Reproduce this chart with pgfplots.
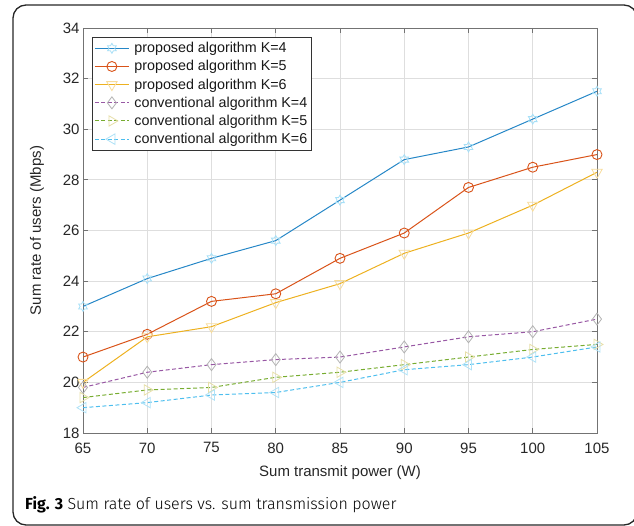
\documentclass[border=0pt]{standalone}
\usepackage{fontspec}
\setmainfont{Liberation Sans}
\newfontfamily\capfont{Fira Sans}
\newfontfamily\capfontlight{Fira Sans Light}
\usepackage{pgfplots}
\pgfplotsset{compat=1.18}
\definecolor{c1}{rgb}{0,0.447,0.741}
\definecolor{c2}{rgb}{0.85,0.325,0.098}
\definecolor{c3}{rgb}{0.929,0.694,0.125}
\definecolor{c4}{rgb}{0.494,0.184,0.556}
\definecolor{c5}{rgb}{0.466,0.674,0.188}
\definecolor{c6}{rgb}{0.301,0.745,0.933}
\pgfdeclareplotmark{hexagram}{%
  \pgfpathmoveto{\pgfpointpolar{90}{\pgfplotmarksize}}%
  \pgfpathlineto{\pgfpointpolar{120}{0.577\pgfplotmarksize}}%
  \pgfpathlineto{\pgfpointpolar{150}{\pgfplotmarksize}}%
  \pgfpathlineto{\pgfpointpolar{180}{0.577\pgfplotmarksize}}%
  \pgfpathlineto{\pgfpointpolar{210}{\pgfplotmarksize}}%
  \pgfpathlineto{\pgfpointpolar{240}{0.577\pgfplotmarksize}}%
  \pgfpathlineto{\pgfpointpolar{270}{\pgfplotmarksize}}%
  \pgfpathlineto{\pgfpointpolar{300}{0.577\pgfplotmarksize}}%
  \pgfpathlineto{\pgfpointpolar{330}{\pgfplotmarksize}}%
  \pgfpathlineto{\pgfpointpolar{0}{0.577\pgfplotmarksize}}%
  \pgfpathlineto{\pgfpointpolar{30}{\pgfplotmarksize}}%
  \pgfpathlineto{\pgfpointpolar{60}{0.577\pgfplotmarksize}}%
  \pgfpathclose\pgfusepathqstroke}
\begin{document}
\begin{tikzpicture}[x=1pt,y=1pt]
\useasboundingbox (0,0) rectangle (634,526);
\draw[line width=1.3pt, black!85, rounded corners=13pt] (13,1) rectangle (637,521);
\begin{axis}[
  at={(83pt,93pt)}, anchor=south west,
  scale only axis, width=514pt, height=405pt,
  xmin=65, xmax=105, ymin=18, ymax=34,
  xtick={65,70,...,105}, ytick={18,20,...,34},
  grid=major,
  major grid style={black!13, line width=0.8pt},
  tick align=inside, major tick length=5pt,
  axis line style={black!55, line width=0.9pt},
  tick style={black!55, line width=0.9pt},
  /pgf/number format/assume math mode=true,
  ticklabel style={font=\fontsize{15}{18}\selectfont, text=black!85},
  xticklabel style={yshift=-6pt},
  every axis x label/.style={at={(axis description cs:0.5,0)}, anchor=center, yshift=-40pt, font=\fontsize{15}{18}\selectfont, text=black!85},
  every axis y label/.style={at={(axis description cs:0,0.5)}, xshift=-46pt, rotate=90, anchor=center, font=\fontsize{15}{18}\selectfont, text=black!85},
  xlabel={Sum transmit power (W)},
  ylabel={Sum rate of users (Mbps)},
  legend style={at={(0,1)}, anchor=north west, xshift=9pt, yshift=-9pt,
    font=\fontsize{14.3}{16}\selectfont, draw=black!80, line width=0.8pt,
    row sep=2.3pt, inner xsep=2pt, inner ysep=3pt, text=black!90},
  legend cell align=left,
  legend image code/.code={\draw[mark repeat=2,mark phase=2] plot coordinates {(0pt,0pt) (17pt,0pt) (34pt,0pt)}; \path (37pt,0pt);},
]
\addplot[c1!85!white, line width=1pt, mark=hexagram, mark size=5pt, mark options={c6!50!white, solid, line width=0.8pt}] coordinates {
(65,23.0) (70,24.1) (75,24.9) (80,25.6) (85,27.2) (90,28.8) (95,29.3) (100,30.4) (105,31.5)};
\addlegendentry{proposed algorithm K=4}
\addplot[c2, line width=1pt, mark=o, mark size=5pt, mark options={c2, solid, line width=0.9pt}] coordinates {
(65,21.0) (70,21.9) (75,23.2) (80,23.5) (85,24.9) (90,25.9) (95,27.7) (100,28.5) (105,29.0)};
\addlegendentry{proposed algorithm K=5}
\addplot[c3, line width=1pt, mark=triangle, mark size=6pt, mark options={c3!45!white, solid, rotate=180, line width=0.8pt}] coordinates {
(65,20.0) (70,21.8) (75,22.2) (80,23.15) (85,23.9) (90,25.1) (95,25.9) (100,27.0) (105,28.3)};
\addlegendentry{proposed algorithm K=6}
\addplot[c4!80!white, line width=1pt, dash pattern=on 4pt off 2.5pt, mark=diamond, mark size=6pt, mark options={black!30, solid, line width=0.8pt}] coordinates {
(65,19.8) (70,20.4) (75,20.7) (80,20.9) (85,21.0) (90,21.4) (95,21.8) (100,22.0) (105,22.5)};
\addlegendentry{conventional algorithm K=4}
\addplot[c5, line width=1pt, dash pattern=on 4pt off 2.5pt, mark=triangle, mark size=6pt, mark options={c5!35!c3!40!white, solid, rotate=-90, line width=0.8pt}] coordinates {
(65,19.4) (70,19.7) (75,19.8) (80,20.2) (85,20.4) (90,20.7) (95,21.0) (100,21.3) (105,21.5)};
\addlegendentry{conventional algorithm K=5}
\addplot[c6, line width=1pt, dash pattern=on 4pt off 2.5pt, mark=triangle, mark size=6pt, mark options={c6!45!white, solid, rotate=90, line width=0.8pt}] coordinates {
(65,19.0) (70,19.2) (75,19.5) (80,19.6) (85,20.0) (90,20.5) (95,20.7) (100,21.0) (105,21.4)};
\addlegendentry{conventional algorithm K=6}
\end{axis}
\node[anchor=base west, inner sep=0pt, font=\fontsize{16}{19}\selectfont] at (25,16) {{\capfont\bfseries Fig. 3} {\capfontlight Sum rate of users vs. sum transmission power}};
\end{tikzpicture}
\end{document}
